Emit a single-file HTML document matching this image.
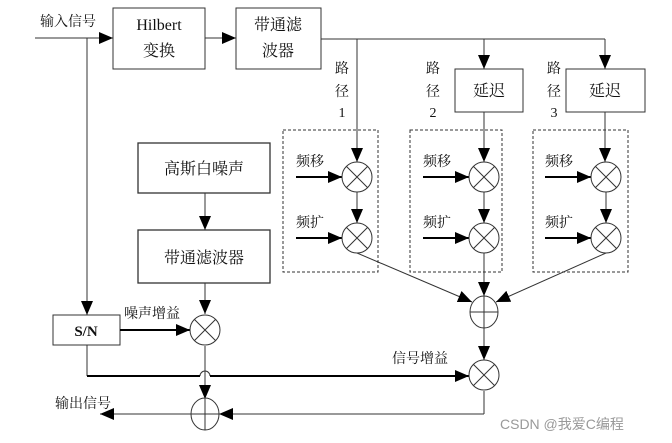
<!DOCTYPE html>
<html><head><meta charset="utf-8"><style>
html,body{margin:0;padding:0;background:#fff;}
svg{display:block;}
text{font-family:"Liberation Serif","Noto Serif CJK SC",serif;fill:#111;}
</style></head><body>
<svg width="672" height="443" viewBox="0 0 672 443" xmlns="http://www.w3.org/2000/svg">
<defs>
<marker id="b" markerWidth="14" markerHeight="12" refX="14" refY="6" orient="auto" markerUnits="userSpaceOnUse">
<path d="M0,0 L14,6 L0,12 z" fill="#000"/></marker>
<g id="mx"><circle r="15" fill="#fff" stroke="#333" stroke-width="1"/><path d="M-10.6,-10.6L10.6,10.6M10.6,-10.6L-10.6,10.6" stroke="#333"/></g>
<g id="sm"><ellipse rx="14" ry="16" fill="#fff" stroke="#333" stroke-width="1"/><path d="M-14,0H14M0,-16V16" stroke="#333"/></g>
</defs>
<g stroke="#333" fill="none" stroke-width="1">
<line x1="35" y1="38" x2="113" y2="38" marker-end="url(#b)"/>
<line x1="87" y1="38" x2="87" y2="315" marker-end="url(#b)"/>
<rect x="113" y="8" width="92" height="61" fill="#fff"/>
<line x1="205" y1="38" x2="236" y2="38" marker-end="url(#b)"/>
<rect x="236" y="8" width="85" height="61" fill="#fff"/>
<line x1="321" y1="39" x2="605" y2="39"/>
<line x1="357" y1="39" x2="357" y2="162" marker-end="url(#b)"/>
<line x1="484" y1="39" x2="484" y2="69" marker-end="url(#b)"/>
<line x1="605" y1="39" x2="605" y2="69" marker-end="url(#b)"/>
<rect x="455" y="69" width="68" height="43" fill="#fff"/>
<rect x="566" y="69" width="79" height="43" fill="#fff"/>
<line x1="484" y1="112" x2="484" y2="162" marker-end="url(#b)"/>
<line x1="605" y1="112" x2="605" y2="162" marker-end="url(#b)"/>
<rect x="283" y="130" width="95" height="142" stroke-dasharray="3,2"/>
<rect x="410" y="130" width="92" height="142" stroke-dasharray="3,2"/>
<rect x="533" y="130" width="95" height="142" stroke-dasharray="3,2"/>
<g stroke="#000" stroke-width="2">
<line x1="296" y1="177" x2="342" y2="177" marker-end="url(#b)"/>
<line x1="296" y1="238" x2="342" y2="238" marker-end="url(#b)"/>
<line x1="423" y1="177" x2="469" y2="177" marker-end="url(#b)"/>
<line x1="423" y1="238" x2="469" y2="238" marker-end="url(#b)"/>
<line x1="545" y1="177" x2="591" y2="177" marker-end="url(#b)"/>
<line x1="545" y1="238" x2="591" y2="238" marker-end="url(#b)"/>
</g>
<line x1="357" y1="192" x2="357" y2="223" marker-end="url(#b)"/>
<line x1="484" y1="192" x2="484" y2="223" marker-end="url(#b)"/>
<line x1="606" y1="192" x2="606" y2="223" marker-end="url(#b)"/>
<line x1="357" y1="253" x2="472" y2="302" marker-end="url(#b)"/>
<line x1="484" y1="253" x2="484" y2="296" marker-end="url(#b)"/>
<line x1="606" y1="253" x2="496" y2="302" marker-end="url(#b)"/>
<line x1="484" y1="328" x2="484" y2="360" marker-end="url(#b)"/>
<rect x="138" y="143" width="132" height="50" fill="#fff" stroke-width="1.3"/>
<line x1="205" y1="193" x2="205" y2="230" marker-end="url(#b)"/>
<rect x="138" y="230" width="132" height="53" fill="#fff" stroke-width="1.3"/>
<line x1="205" y1="283" x2="205" y2="314" marker-end="url(#b)"/>
<rect x="53" y="315" width="67" height="30" fill="#fff"/>
<line x1="120" y1="330" x2="190" y2="330" stroke="#000" stroke-width="2" marker-end="url(#b)"/>
<line x1="205" y1="346" x2="205" y2="399" marker-end="url(#b)"/>
<path d="M87,345 V376"/>
<path d="M200,376 A5,5 0 0 1 210,376"/>
<path d="M87,376 H200 M210,376 H469" stroke="#000" stroke-width="2" marker-end="url(#b)"/>
<line x1="484" y1="391" x2="484" y2="414"/>
<line x1="484" y1="414" x2="219" y2="414" marker-end="url(#b)"/>
<line x1="191" y1="414" x2="100" y2="414" marker-end="url(#b)"/>
</g>
<use href="#mx" x="357" y="177"/><use href="#mx" x="357" y="238"/>
<use href="#mx" x="484" y="177"/><use href="#mx" x="484" y="238"/>
<use href="#mx" x="606" y="177"/><use href="#mx" x="606" y="238"/>
<use href="#mx" x="484" y="375"/><use href="#mx" x="205" y="330"/>
<g><ellipse cx="484" cy="312" rx="14" ry="16" fill="#fff" stroke="#333"/><path d="M470,312H498M484,296V328" stroke="#333"/></g>
<use href="#sm" x="205" y="414"/>
<g font-size="16">
<text x="159" y="30" text-anchor="middle">Hilbert</text>
<text x="159" y="56" text-anchor="middle">变换</text>
<text x="278" y="30" text-anchor="middle">带通滤</text>
<text x="278" y="56" text-anchor="middle">波器</text>
<text x="489" y="96" text-anchor="middle">延迟</text>
<text x="605" y="96" text-anchor="middle">延迟</text>
<text x="204" y="174" text-anchor="middle">高斯白噪声</text>
<text x="204" y="263" text-anchor="middle">带通滤波器</text>
<text x="86" y="336" text-anchor="middle" font-weight="bold" font-size="15">S/N</text>
</g>
<g font-size="14">
<text x="40" y="26">输入信号</text>
<text x="342" y="73" text-anchor="middle">路</text><text x="342" y="96" text-anchor="middle">径</text><text x="342" y="117" text-anchor="middle">1</text>
<text x="433" y="73" text-anchor="middle">路</text><text x="433" y="96" text-anchor="middle">径</text><text x="433" y="117" text-anchor="middle">2</text>
<text x="554" y="73" text-anchor="middle">路</text><text x="554" y="96" text-anchor="middle">径</text><text x="554" y="117" text-anchor="middle">3</text>
<text x="296" y="166">频移</text><text x="296" y="227">频扩</text>
<text x="423" y="166">频移</text><text x="423" y="227">频扩</text>
<text x="545" y="166">频移</text><text x="545" y="227">频扩</text>
<text x="124" y="318">噪声增益</text>
<text x="392" y="363">信号增益</text>
<text x="55" y="408">输出信号</text>
</g>
<text x="500" y="429" font-size="14" style="font-family:'Liberation Sans','Noto Sans CJK SC',sans-serif;fill:#999">CSDN @我爱C编程</text>
</svg>
</body></html>
